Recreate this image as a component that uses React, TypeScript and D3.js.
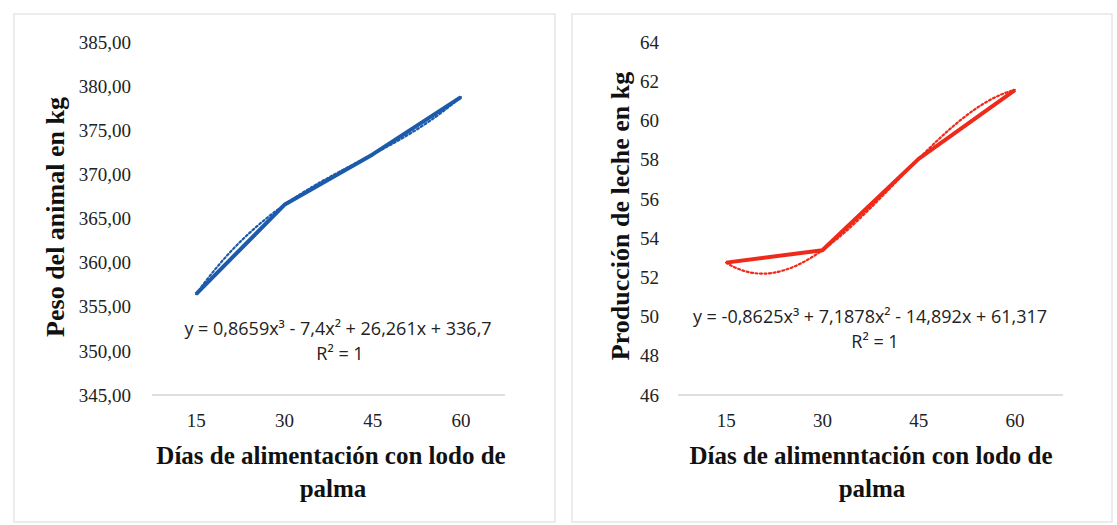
import React from "react";
import * as d3 from "d3";

const days = ["15", "30", "45", "60"];
const weightValues = [356.43, 366.55, 372.26, 378.76];
const milkValues = [52.75, 53.38, 58.04, 61.55];
const weightTicks = [345, 350, 355, 360, 365, 370, 375, 380, 385];
const milkTicks = [46, 48, 50, 52, 54, 56, 58, 60, 62, 64];
// trendline polynomial coefficients (x^3, x^2, x, const) as shown in the chart
const weightTrend = [0.8659, -7.4, 26.261, 336.7];
const milkTrend = [-0.8625, 7.1878, -14.892, 61.317];

const SERIF = "'Liberation Serif', 'Times New Roman', 'DejaVu Serif', serif";
const SANS = "'Open Sans', 'Noto Sans', sans-serif";

type PanelProps = {
  values: number[];
  ticks: number[];
  trend: number[];
  color: string;
  plotLeft: number;
  plotRight: number;
  top: number;
  bottom: number;
  tickFmt: (v: number) => string;
  tickRight: number;
  yTitle: string;
  yTitleX: number;
  yTitleY: number;
  xTitle1: string;
  xTitle1X: number;
  xTitle2X: number;
  eq: string;
  eqX: number;
  eqY: number;
  r2X: number;
  r2Y: number;
};

function Panel(p: PanelProps) {
  const x = d3.scaleBand<string>().domain(days).range([p.plotLeft, p.plotRight]);
  const y = d3
    .scaleLinear()
    .domain([p.ticks[0], p.ticks[p.ticks.length - 1]])
    .range([p.bottom, p.top]);
  const cx = (d: string) => (x(d) as number) + x.bandwidth() / 2;
  const xl = d3.scaleLinear().domain([1, 4]).range([cx(days[0]), cx(days[3])]);
  const line = d3
    .line<number>()
    .x((_, i) => cx(days[i]))
    .y((v) => y(v));
  const poly = (t: number) =>
    p.trend[0] * t * t * t + p.trend[1] * t * t + p.trend[2] * t + p.trend[3];
  const ts = d3.range(1, 4.0001, 0.05);
  const trendLine = d3
    .line<number>()
    .x((t) => xl(t))
    .y((t) => y(poly(t)))
    .curve(d3.curveMonotoneX);
  return (
    <g>
      <line x1={p.plotLeft} x2={p.plotRight} y1={p.bottom} y2={p.bottom} stroke="#d9d3cc" strokeWidth={1.5} />
      {p.ticks.map((t) => (
        <text
          key={t}
          x={p.tickRight}
          y={y(t)}
          dy="0.35em"
          textAnchor="end"
          style={{ fontFamily: SERIF, fontSize: 19 }}
          fill="#222"
        >
          {p.tickFmt(t)}
        </text>
      ))}
      {days.map((d) => (
        <text
          key={d}
          x={cx(d)}
          y={p.bottom + 25}
          dy="0.35em"
          textAnchor="middle"
          style={{ fontFamily: SERIF, fontSize: 19 }}
          fill="#222"
        >
          {d}
        </text>
      ))}
      <path d={line(p.values) || ""} fill="none" stroke={p.color} strokeWidth={4} strokeLinejoin="round" />
      <path
        d={trendLine(ts) || ""}
        fill="none"
        stroke={p.color}
        strokeWidth={2.2}
        strokeDasharray="2,2.5"
        strokeLinecap="round"
      />
      <text
        transform={`translate(${p.yTitleX},${p.yTitleY}) rotate(-90)`}
        textAnchor="middle"
        dy="0.35em"
        style={{ fontFamily: SERIF, fontSize: 26, fontWeight: "bold" }}
        fill="#111"
      >
        {p.yTitle}
      </text>
      <text
        x={p.xTitle1X}
        y={455}
        dy="0.35em"
        textAnchor="middle"
        style={{ fontFamily: SERIF, fontSize: 25, fontWeight: "bold" }}
        fill="#111"
      >
        {p.xTitle1}
      </text>
      <text
        x={p.xTitle2X}
        y={488}
        dy="0.35em"
        textAnchor="middle"
        style={{ fontFamily: SERIF, fontSize: 25, fontWeight: "bold" }}
        fill="#111"
      >
        palma
      </text>
      <text x={p.eqX} y={p.eqY} dy="0.35em" textAnchor="middle" style={{ fontFamily: SANS, fontSize: 18 }} fill="#222">
        {p.eq}
      </text>
      <text x={p.r2X} y={p.r2Y} dy="0.35em" textAnchor="middle" style={{ fontFamily: SANS, fontSize: 18 }} fill="#222">
        R² = 1
      </text>
    </g>
  );
}

export default function App() {
  return (
    <svg
      width={1117}
      height={525}
      style={{ position: "absolute", left: 0, top: 0, background: "#fff" }}
    >
      <rect x={14} y={14} width={541} height={508} fill="none" stroke="#e6e6e6" strokeWidth={1.5} />
      <rect x={572} y={14} width={540} height={508} fill="none" stroke="#e6e6e6" strokeWidth={1.5} />
      <Panel
        values={weightValues}
        ticks={weightTicks}
        trend={weightTrend}
        color="#1c5bab"
        plotLeft={152}
        plotRight={505}
        top={42}
        bottom={395}
        tickFmt={(v) => d3.format(".2f")(v).replace(".", ",")}
        tickRight={131}
        yTitle="Peso del animal en kg"
        yTitleX={55}
        yTitleY={217}
        xTitle1="Días de alimentación con lodo de"
        xTitle1X={331}
        xTitle2X={333}
        eq="y = 0,8659x³ - 7,4x² + 26,261x + 336,7"
        eqX={338}
        eqY={329}
        r2X={340}
        r2Y={354}
      />
      <Panel
        values={milkValues}
        ticks={milkTicks}
        trend={milkTrend}
        color="#ee2a1a"
        plotLeft={678}
        plotRight={1063}
        top={42}
        bottom={395}
        tickFmt={(v) => String(v)}
        tickRight={659}
        yTitle="Producción de leche en kg"
        yTitleX={620}
        yTitleY={216}
        xTitle1="Días de alimenntación con lodo de"
        xTitle1X={871}
        xTitle2X={872}
        eq="y = -0,8625x³ + 7,1878x² - 14,892x + 61,317"
        eqX={870}
        eqY={317}
        r2X={875}
        r2Y={342}
      />
    </svg>
  );
}
